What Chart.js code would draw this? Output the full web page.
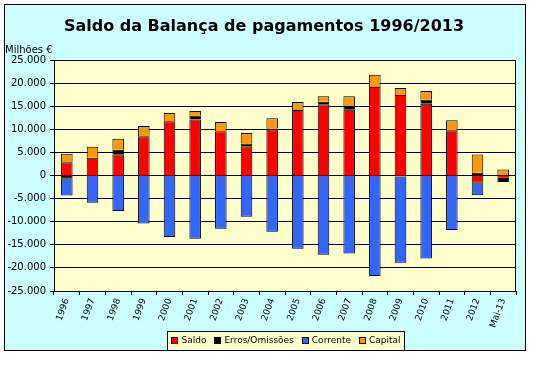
<!DOCTYPE html>
<html>
<head>
<meta charset="utf-8">
<script src="https://cdn.jsdelivr.net/npm/chart.js@4/dist/chart.umd.min.js"></script>
<style>
  body { margin: 0; background: #fff; }
  #caixa { width: 542px; height: 365px; }
</style>
</head>
<body>
<div id="caixa"><canvas id="grafico" width="542" height="365"></canvas></div>
<script>
// dados (milhões de euros)
var anos = ["1996", "1997", "1998", "1999", "2000", "2001", "2002", "2003", "2004",
            "2005", "2006", "2007", "2008", "2009", "2010", "2011", "2012", "Mai-13"];
var saldo = [2880, 3820, 4600, 8490, 11730, 12100, 9570, 6330, 10000,
             14190, 15400, 14250, 19150, 17420, 15550, 9790, -1580, -500];
var erros = [-700, null, 1000, null, null, 860, null, 580, 150,
             null, 580, 800, null, -150, 860, null, 580, -900];
var corrente = [-3620, -5900, -7700, -10370, -13320, -13680, -11520, -8930, -12160,
                -15830, -17130, -16910, -21750, -18710, -17990, -11810, -2720, null];
var capital = [1810, 2380, 2330, 2240, 1810, 1010, 2020, 2310, 2240,
               1730, 1150, 2080, 2660, 1510, 1870, 2160, 3970, 1300];
var yMin = -25000, yMax = 25000, yPasso = 5000;

function milhares(v) {
  return String(v).replace(/\B(?=(\d{3})+(?!\d))/g, ".");
}

var fonte = "'DejaVu Sans', sans-serif";

// fundo, moldura, titulo e legenda
var moldura = {
  id: "moldura",
  beforeDraw: function(chart) {
    var c = chart.ctx, a = chart.chartArea;
    c.save();
    c.fillStyle = "#ffffff";
    c.fillRect(0, 0, chart.width, chart.height);
    c.fillStyle = "#ccffff";
    c.fillRect(4, 4, 521, 346);
    c.fillStyle = "#ffffcc";
    c.fillRect(a.left, a.top, a.right - a.left, a.bottom - a.top);
    c.restore();
  },
  afterDraw: function(chart) {
    var c = chart.ctx, a = chart.chartArea;
    c.save();
    c.strokeStyle = "#000";
    c.lineWidth = 1;
    c.strokeRect(a.left + 0.5, a.top + 0.5, a.right - a.left - 1, a.bottom - a.top);
    c.strokeRect(4.5, 4.5, 521, 346);

    c.fillStyle = "#000";
    c.textAlign = "center";
    c.textBaseline = "middle";
    c.font = "bold 16px " + fonte;
    c.fillText("Saldo da Balança de pagamentos 1996/2013", 264, 27);

    c.textAlign = "left";
    c.font = "10px " + fonte;
    c.fillText("Milhões €", 5, 50);

    // legenda
    c.font = "9px " + fonte;
    var ds = chart.data.datasets, larg = 0, quad = 7, esp = 3, sep = 8, pad = 4;
    ds.forEach(function(d, i) {
      larg += quad + esp + c.measureText(d.label).width + (i < ds.length - 1 ? sep : 0);
    });
    var x0 = 286 - larg / 2 - pad, y0 = 331, h = 19;
    c.fillStyle = "#ffffcc";
    c.fillRect(x0, y0, larg + pad * 2, h);
    c.strokeRect(Math.round(x0) + 0.5, y0 + 0.5, Math.round(larg + pad * 2), h);
    var x = x0 + pad, ym = y0 + h / 2 + 0.5;
    ds.forEach(function(d) {
      c.fillStyle = d.backgroundColor;
      c.fillRect(Math.round(x), Math.round(ym - 4), quad, quad);
      c.strokeRect(Math.round(x) + 0.5, Math.round(ym - 4) + 0.5, quad - 1, quad - 1);
      x += quad + esp;
      c.fillStyle = "#000";
      c.fillText(d.label, x, ym);
      x += c.measureText(d.label).width + sep;
    });
    c.restore();
  }
};

function serie(nome, valores, cor) {
  return {
    label: nome,
    data: valores,
    backgroundColor: cor,
    borderColor: "#000",
    borderWidth: 1,
    borderSkipped: "start",
    barPercentage: 0.45,
    categoryPercentage: 1
  };
}

var ctx = document.getElementById("grafico");
var grafico = new Chart(ctx, {
  type: "bar",
  data: {
    labels: anos,
    datasets: [
      serie("Saldo", saldo, "#ff0000"),
      serie("Erros/Omissões", erros, "#000000"),
      serie("Corrente", corrente, "#3366ff"),
      serie("Capital", capital, "#ff9900")
    ]
  },
  options: {
    responsive: false,
    animation: false,
    layout: { padding: { top: 60, right: 26, left: 0, bottom: 0 } },
    plugins: {
      legend: { display: false },
      tooltip: { enabled: false }
    },
    scales: {
      x: {
        stacked: true,
        afterFit: function(s) { s.height = 74; },
        grid: { display: true, drawOnChartArea: false, color: "#000", tickLength: 4, offset: true },
        border: { color: "#000" },
        ticks: {
          color: "#000",
          font: { family: fonte, size: 9 },
          minRotation: 70,
          maxRotation: 70,
          padding: 2,
          autoSkip: false
        }
      },
      y: {
        stacked: true,
        min: yMin,
        max: yMax,
        afterFit: function(s) { s.width = 54; },
        grid: { color: "#000", tickLength: 4 },
        border: { color: "#000" },
        ticks: {
          stepSize: yPasso,
          color: "#000",
          padding: 4,
          font: { family: fonte, size: 10 },
          callback: function(v) { return milhares(v); }
        }
      }
    }
  },
  plugins: [moldura]
});
</script>
</body>
</html>
